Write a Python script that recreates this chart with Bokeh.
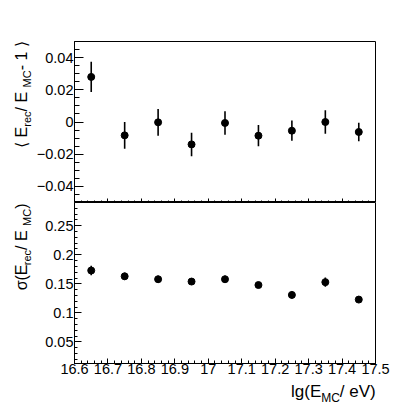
import numpy as np
from bokeh.plotting import figure
from bokeh.layouts import column, row
from bokeh.models import FixedTicker, CustomJSTickFormatter, Label, ColumnDataSource, Range1d
from bokeh.embed import file_html
from bokeh.resources import INLINE

# ---------------- data ----------------
lg_e = [16.65, 16.75, 16.85, 16.95, 17.05, 17.15, 17.25, 17.35, 17.45]
bias = [0.0280, -0.0083, -0.0002, -0.0139, -0.0006, -0.0085, -0.0054, 0.0000, -0.0062]
bias_err = [0.0094, 0.0083, 0.0083, 0.0073, 0.0073, 0.0066, 0.0063, 0.0073, 0.0057]
sigma = [0.173, 0.163, 0.158, 0.154, 0.158, 0.148, 0.131, 0.153, 0.123]
sigma_err = [0.008, 0.006, 0.006, 0.006, 0.006, 0.005, 0.006, 0.008, 0.004]

x_ticks = [16.6, 16.7, 16.8, 16.9, 17.0, 17.1, 17.2, 17.3, 17.4, 17.5]
bias_ticks = [-0.04, -0.02, 0.0, 0.02, 0.04]
sigma_ticks = [0.05, 0.1, 0.15, 0.2, 0.25]

FONT = "Liberation Sans"
FW, FH = 301, 161
TLW = 33          # width of the strip holding the y titles
LB, RB = 41, 39   # borders of the data panels
TICK_FS = "14.5px"
MID = 0.3465      # em distance from baseline to the middle of the font box

fmt = CustomJSTickFormatter(code="""
const v = Math.round(tick * 10000) / 10000;
return v.toString().replace('-', '\\u2212');
""")
blank = CustomJSTickFormatter(code="return '';")

# Helvetica-like advance widths (per 1000 em)
W = {' ': 278, '(': 333, ')': 333, '/': 278, '-': 333, '1': 556, 'E': 667, 'M': 833,
     'C': 722, 'r': 333, 'e': 556, 'c': 500, 'l': 222, 'g': 556, 'V': 667,
     '\u03c3': 571, '\u27e8': 390, '\u27e9': 390}


def tw(s, size):
    return sum(W.get(ch, 556) for ch in s) * size / 1000.0


def mk_label(p, t, s, x, y, angle, baseline):
    lab = Label(x=x, y=y, text=t, angle=angle)
    lab.text_font = FONT
    lab.text_font_size = "%dpx" % s
    lab.text_align = "left"
    lab.text_baseline = baseline
    lab.text_color = "black"
    p.add_layout(lab)


def rich_vertical(p, pieces, x_base, y_end):
    # reads bottom-to-top, ends at y_end (y measured downwards);
    # x_base is the main baseline, sh > 0 moves a piece below the baseline (right)
    total = sum(tw(t, s) for t, s, _ in pieces)
    cum = 0.0
    for t, s, sh in pieces:
        mk_label(p, t, s, x_base + sh - MID * s, y_end + total - cum, np.pi / 2, "middle")
        cum += tw(t, s)


def rich_horizontal(p, pieces, x_end, y_base):
    # y measured downwards from the strip top, sh > 0 lowers the piece
    total = sum(tw(t, s) for t, s, _ in pieces)
    cum = 0.0
    for t, s, sh in pieces:
        mk_label(p, t, s, x_end - total + cum, y_base + sh, 0, "alphabetic")
        cum += tw(t, s)


def text_fig(w, h):
    f = figure(width=w, height=h, x_range=Range1d(0, w), y_range=Range1d(h, 0),
               output_backend="svg", toolbar_location=None, title=None,
               x_axis_location=None, y_axis_location=None,
               min_border_left=0, min_border_right=0, min_border_top=0, min_border_bottom=0)
    f.outline_line_color = None
    f.xgrid.visible = False
    f.ygrid.visible = False
    f.background_fill_color = "white"
    f.border_fill_color = "white"
    return f


def base_style(p):
    p.outline_line_color = "black"
    p.outline_line_width = 1
    p.xgrid.visible = False
    p.ygrid.visible = False
    p.background_fill_color = "white"
    p.border_fill_color = "white"
    for ax in (p.xaxis[0], p.yaxis[0]):
        ax.axis_line_color = "black"
        ax.major_tick_line_color = "black"
        ax.minor_tick_line_color = "black"
        ax.major_tick_out = 0
        ax.minor_tick_out = 0
        ax.major_label_text_font = FONT
        ax.major_label_text_font_size = TICK_FS
        ax.major_label_text_color = "black"
        ax.formatter = fmt
    p.xaxis[0].ticker = FixedTicker(
        ticks=x_ticks,
        minor_ticks=np.round(np.arange(16.6, 17.5001, 0.02), 3).tolist())


x_range = Range1d(16.6, 17.5)

# ---------------- top panel ----------------
p1 = figure(frame_width=FW, frame_height=FH, x_range=x_range, y_range=Range1d(-0.05, 0.05),
            output_backend="svg", toolbar_location=None, title=None,
            min_border_left=LB, min_border_right=RB, min_border_top=41, min_border_bottom=0)
base_style(p1)
p1.yaxis[0].ticker = FixedTicker(
    ticks=bias_ticks, minor_ticks=np.round(np.arange(-0.05, 0.05001, 0.005), 4).tolist())
p1.yaxis[0].major_tick_in = 9
p1.yaxis[0].minor_tick_in = 5
p1.yaxis[0].major_label_standoff = 1
p1.xaxis[0].major_tick_in = 4
p1.xaxis[0].minor_tick_in = 2
p1.xaxis[0].formatter = blank
p1.xaxis[0].major_label_text_font_size = "0px"
p1.xaxis[0].major_label_standoff = 0

s1 = ColumnDataSource(dict(x=lg_e, y=bias,
                           lo=[v - e for v, e in zip(bias, bias_err)],
                           hi=[v + e for v, e in zip(bias, bias_err)]))
p1.segment(x0="x", y0="lo", x1="x", y1="hi", source=s1, line_color="black", line_width=1.6)
p1.scatter(x="x", y="y", source=s1, size=7, fill_color="black", line_color="black")

# ---------------- bottom panel ----------------
p2 = figure(frame_width=FW, frame_height=FH, x_range=x_range, y_range=Range1d(0.013, 0.29),
            output_backend="svg", toolbar_location=None, title=None,
            min_border_left=LB, min_border_right=RB, min_border_top=0, min_border_bottom=18)
base_style(p2)
p2.yaxis[0].ticker = FixedTicker(
    ticks=sigma_ticks, minor_ticks=np.round(np.arange(0.02, 0.2901, 0.01), 3).tolist())
p2.yaxis[0].major_tick_in = 7
p2.yaxis[0].minor_tick_in = 3
p2.yaxis[0].major_label_standoff = 1
p2.xaxis[0].major_tick_in = 5
p2.xaxis[0].minor_tick_in = 3
p2.xaxis[0].major_label_standoff = 0

s2 = ColumnDataSource(dict(x=lg_e, y=sigma,
                           lo=[v - e for v, e in zip(sigma, sigma_err)],
                           hi=[v + e for v, e in zip(sigma, sigma_err)]))
p2.segment(x0="x", y0="lo", x1="x", y1="hi", source=s2, line_color="black", line_width=1.6)
p2.scatter(x="x", y="y", source=s2, size=7, fill_color="black", line_color="black")

# ---------------- axis titles ----------------
tl = text_fig(TLW, 381)
rich_vertical(tl, [("\u27e8 E", 16, 0), ("rec", 11, 4), (" / E", 16, 0), ("MC", 11, 4),
                   (" - 1 \u27e9", 16, 0)], 26.5, 36)
rich_vertical(tl, [("\u03c3(E", 16, 0), ("rec", 11, 4), (" / E", 16, 0), ("MC", 11, 4),
                   (")", 16, 0)], 26.5, 203)

xt = text_fig(413, 22)
rich_horizontal(xt, [("lg(E", 17, 0), ("MC", 12, 6), (" / eV)", 17, 0)], 380, 10)

layout = column(row(tl, column(p1, p2, spacing=0), spacing=0), xt, spacing=0)

with open("out.html", "w", encoding="utf-8") as f:
    f.write(file_html(layout, INLINE))
